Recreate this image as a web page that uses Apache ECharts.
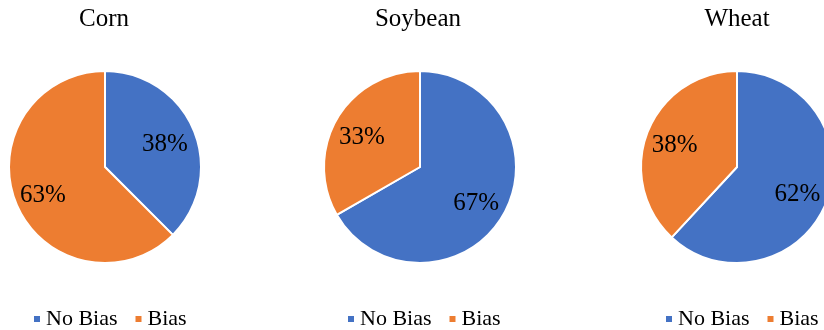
<!DOCTYPE html>
<html>
<head>
<meta charset="utf-8">
<script src="https://cdn.jsdelivr.net/npm/echarts@6/dist/echarts.min.js"></script>
<style>
html,body{margin:0;padding:0;background:#fff;}
#chart{width:824px;height:330px;}
</style>
</head>
<body>
<div id="chart"></div>
<script>
const categories = ['No Bias', 'Bias'];
const cropNames = ['Corn', 'Soybean', 'Wheat'];
const cornValues = [37.5, 62.5];
const soybeanValues = [66.7, 33.3];
const wheatValues = [61.9, 38.1];
const allValues = [cornValues, soybeanValues, wheatValues];
const colors = ['#4472C4', '#ED7D31'];

const centersX = [105, 420, 737];
const titleX = [104, 418, 737];
const centerY = 167;
const legendLeft = [32, 346, 664];
const font = '"Liberation Serif", "Times New Roman", serif';

const series = [];
const titles = [];
const legends = [];
cropNames.forEach((name, i) => {
  const data = categories.map((c, j) => ({ name: c, value: allValues[i][j] }));
  series.push({
    type: 'pie',
    name: name,
    center: [centersX[i], centerY],
    radius: [0, 96],
    startAngle: 90,
    clockwise: true,
    data: data,
    label: { show: false },
    labelLine: { show: false },
    itemStyle: { borderColor: '#fff', borderWidth: 2 },
    emphasis: { disabled: true },
    animation: false
  });
  series.push({
    type: 'pie',
    name: name + ' labels',
    center: [centersX[i], centerY],
    radius: [0, 126],
    startAngle: 90,
    clockwise: true,
    silent: true,
    data: data.map(d => ({ name: d.name, value: d.value, itemStyle: { color: 'rgba(0,0,0,0)' } })),
    label: {
      show: true,
      position: 'inside',
      formatter: p => Math.round(p.value) + '%',
      fontFamily: font,
      fontSize: 25,
      color: '#000',
      offset: [-1, 3]
    },
    labelLine: { show: false },
    emphasis: { disabled: true },
    animation: false,
    z: 3
  });
  titles.push({
    text: name,
    left: titleX[i],
    textAlign: 'center',
    top: 7,
    padding: 0,
    textStyle: { fontFamily: font, fontSize: 25, fontWeight: 'normal', color: '#000' }
  });
  legends.push({
    data: categories,
    left: legendLeft[i],
    top: 308,
    width: 220,
    padding: 0,
    itemWidth: 8,
    itemHeight: 8,
    itemGap: 16,
    icon: 'rect',
    selectedMode: false,
    textStyle: { fontFamily: font, fontSize: 22, color: '#000', padding: [0, 0, 0, 0] }
  });
});

const chart = echarts.init(document.getElementById('chart'), null, { renderer: 'canvas' });
chart.setOption({
  color: colors,
  animation: false,
  title: titles,
  legend: legends,
  series: series
});
</script>
</body>
</html>
